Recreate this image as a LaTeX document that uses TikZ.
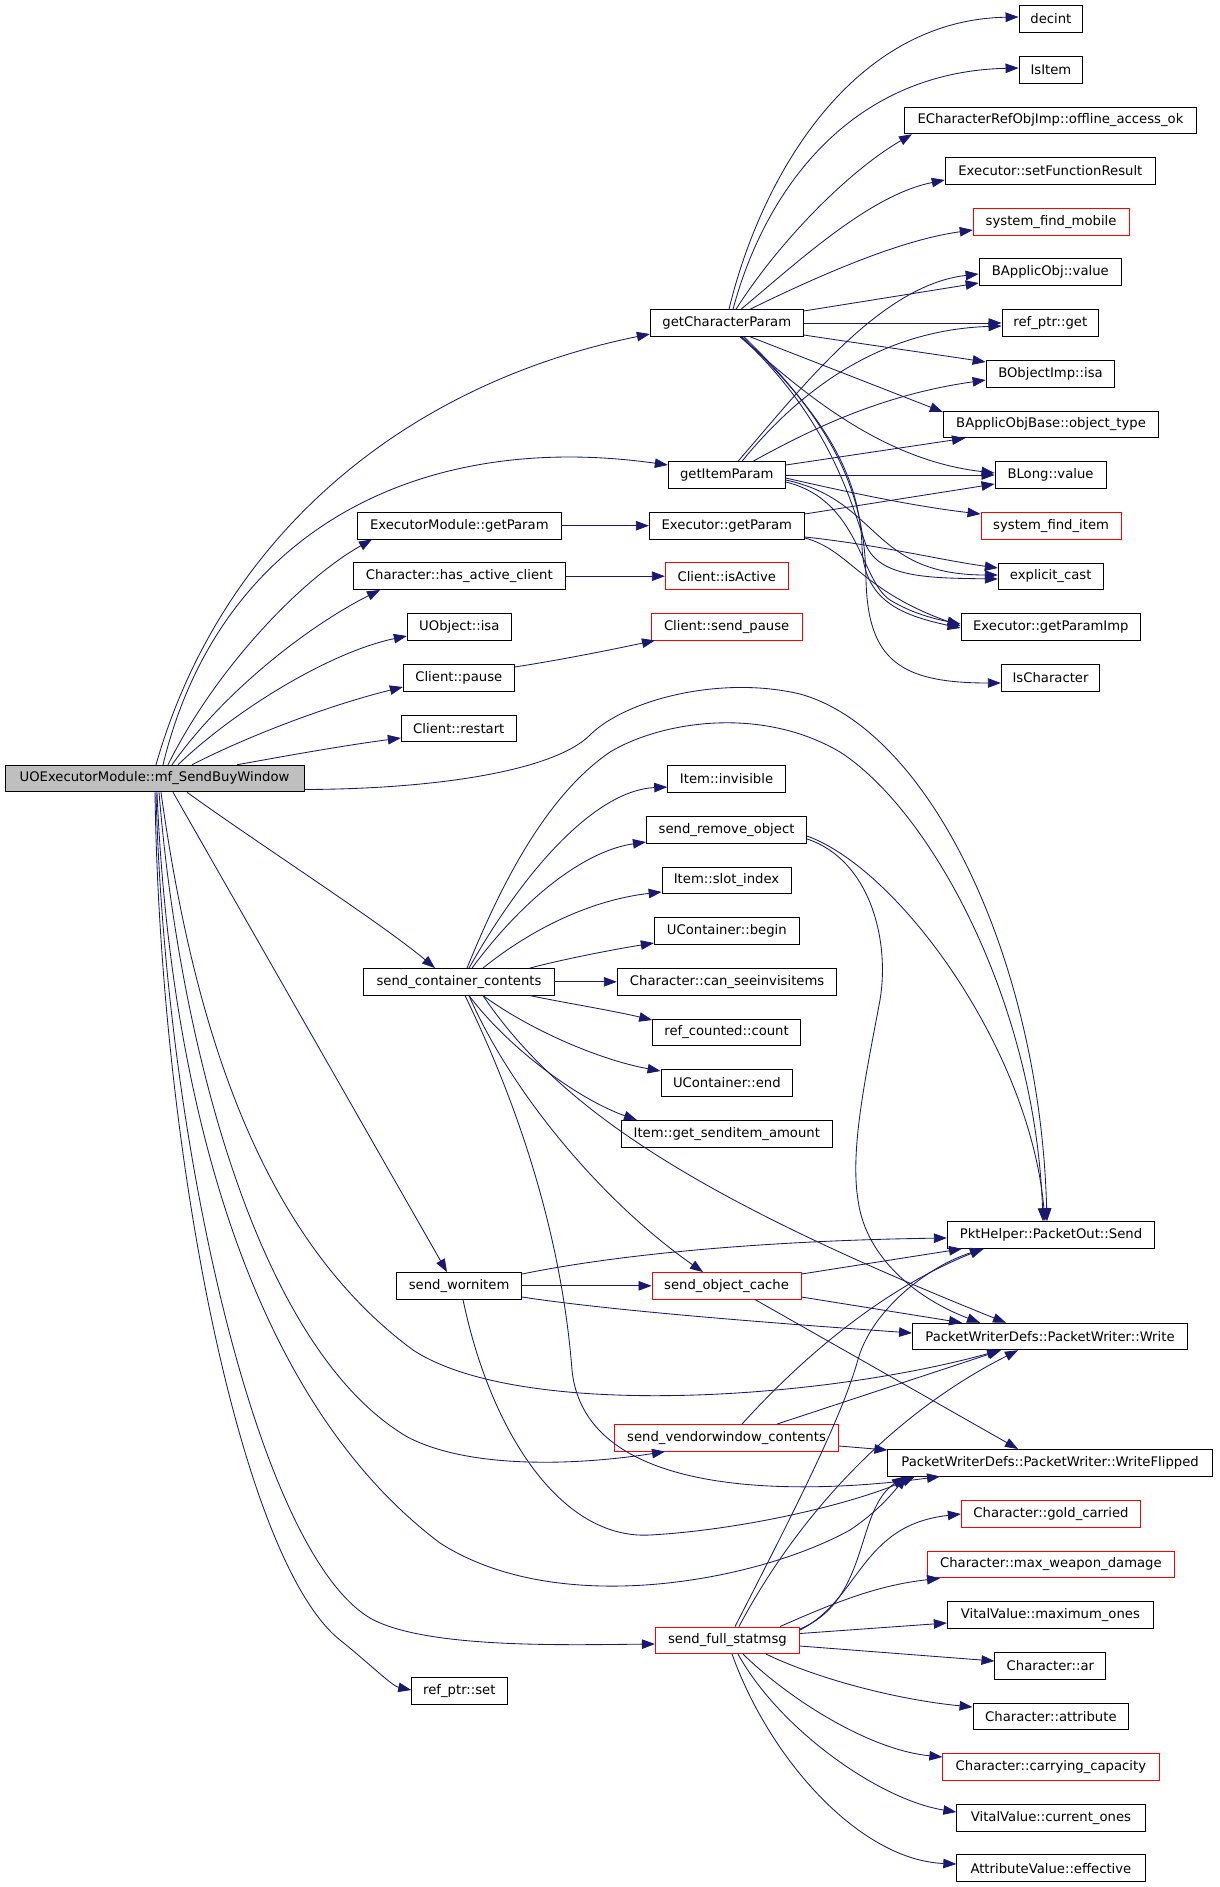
\documentclass[tikz,border=0pt]{standalone}
\usepackage{fontspec}
\setmainfont{DejaVu Sans}
\usetikzlibrary{arrows.meta}
\definecolor{edgec}{RGB}{25,25,112}
\definecolor{nodegray}{RGB}{191,191,191}
\newcommand\gnode[6]{\node[#1, minimum width={#4-#3}] (#2) at ({(#3+#4)/2},#5) {#6};}
\begin{document}
\begin{tikzpicture}[x=1pt,y=-1pt,
  box/.style={draw=black, fill=white, line width=0.9pt, minimum height=26.6pt, inner sep=0pt, font=\fontsize{13.2}{15}\selectfont},
  rbox/.style={box, draw=red},
  mbox/.style={box, fill=nodegray},
  edge/.style={draw=edgec, line width=0.85pt, -{Triangle[length=13pt,width=9.5pt]}}]
\fill[white] (0,0) rectangle (1219,1887);
\useasboundingbox (0,0) rectangle (1219,1887);
% nodes
\gnode{mbox}{main}{5}{304}{778.5}{UOExecutorModule::mf\_SendBuyWindow}
\gnode{box}{emgp}{357.3}{561.3}{525.7}{ExecutorModule::getParam}
\gnode{box}{hac}{353.3}{565.3}{576.2}{Character::has\_active\_client}
\gnode{box}{uoisa}{407.3}{511.3}{626.7}{UObject::isa}
\gnode{box}{cpause}{403.3}{514.3}{677.7}{Client::pause}
\gnode{box}{crestart}{401.3}{516.3}{728.3}{Client::restart}
\gnode{box}{scc}{363.5}{554.6}{981.8}{send\_container\_contents}
\gnode{box}{swi}{396.6}{521.5}{1285.8}{send\_wornitem}
\gnode{box}{rps}{411.7}{507}{1690.8}{ref\_ptr::set}
\gnode{box}{gcp}{650.3}{803.3}{323}{getCharacterParam}
\gnode{box}{gip}{668.3}{785.3}{475}{getItemParam}
\gnode{box}{egp}{649.3}{804.3}{525.7}{Executor::getParam}
\gnode{rbox}{cia}{665.3}{788.3}{576.2}{Client::isActive}
\gnode{rbox}{csp}{651}{802.3}{626.7}{Client::send\_pause}
\gnode{box}{iinv}{667.7}{785.4}{778.8}{Item::invisible}
\gnode{box}{sro}{646.4}{806.7}{829.8}{send\_remove\_object}
\gnode{box}{islot}{662.1}{791}{880.3}{Item::slot\_index}
\gnode{box}{ucb}{654.3}{799.4}{931}{UContainer::begin}
\gnode{box}{csee}{617.3}{836.9}{981.8}{Character::can\_seeinvisitems}
\gnode{box}{rcc}{652.6}{800.5}{1032.3}{ref\_counted::count}
\gnode{box}{uce}{661}{792.7}{1083}{UContainer::end}
\gnode{box}{igsa}{621.2}{832.4}{1133.8}{Item::get\_senditem\_amount}
\gnode{rbox}{soc}{652}{801.1}{1285.8}{send\_object\_cache}
\gnode{rbox}{svc}{614.5}{838.6}{1437.8}{send\_vendorwindow\_contents}
\gnode{rbox}{sfs}{655.4}{799.4}{1640.3}{send\_full\_statmsg}
\gnode{box}{decint}{1019}{1082.8}{19}{decint}
\gnode{box}{isitem}{1019}{1082.8}{69.8}{IsItem}
\gnode{box}{ecr}{904.2}{1196.8}{120.5}{ECharacterRefObjImp::offline\_access\_ok}
\gnode{box}{esfr}{945.2}{1155.5}{170.8}{Executor::setFunctionResult}
\gnode{rbox}{sfm}{973.2}{1129}{222}{system\_find\_mobile}
\gnode{box}{bav}{979.1}{1121.5}{272.2}{BApplicObj::value}
\gnode{box}{rpg}{1002}{1098.7}{323}{ref\_ptr::get}
\gnode{box}{boi}{986.1}{1114.9}{374}{BObjectImp::isa}
\gnode{box}{babot}{943.3}{1158.8}{424.5}{BApplicObjBase::object\_type}
\gnode{box}{blv}{995}{1106}{475}{BLong::value}
\gnode{rbox}{sfi}{981}{1121.2}{525.7}{system\_find\_item}
\gnode{box}{ecast}{998.3}{1103.1}{576.3}{explicit\_cast}
\gnode{box}{egpi}{961}{1140.7}{627}{Executor::getParamImp}
\gnode{box}{isch}{1001.3}{1099.8}{677.7}{IsCharacter}
\gnode{box}{send}{947.3}{1154.6}{1235}{PktHelper::PacketOut::Send}
\gnode{box}{write}{912.5}{1187.6}{1336.5}{PacketWriterDefs::PacketWriter::Write}
\gnode{box}{wflip}{887.9}{1212.3}{1462.7}{PacketWriterDefs::PacketWriter::WriteFlipped}
\gnode{rbox}{cgc}{961.3}{1140.6}{1514}{Character::gold\_carried}
\gnode{rbox}{cmwd}{927.1}{1174.7}{1564.5}{Character::max\_weapon\_damage}
\gnode{box}{vvmo}{947.3}{1153.4}{1615}{VitalValue::maximum\_ones}
\gnode{box}{car}{994.9}{1105.8}{1666}{Character::ar}
\gnode{box}{cattr}{973}{1128.8}{1716.3}{Character::attribute}
\gnode{rbox}{ccc}{942.8}{1159}{1766.7}{Character::carrying\_capacity}
\gnode{box}{vvco}{956.8}{1145}{1817.7}{VitalValue::current\_ones}
\gnode{box}{ave}{956.8}{1145}{1868.2}{AttributeValue::effective}
% edges from main (top)
\draw[edge] (156,0 |- main.north) .. controls (220,540) and (400,385) .. (gcp.west |- 0,334);
\draw[edge] (163,0 |- main.north) .. controls (220,530) and (420,430) .. (gip.west |- 0,465);
\draw[edge] (168,0 |- main.north) .. controls (215,670) and (300,580) .. (372,0 |- emgp.south);
\draw[edge] (172,0 |- main.north) .. controls (225,690) and (310,625) .. (380,0 |- hac.south);
\draw[edge] (178,0 |- main.north) .. controls (235,710) and (330,652) .. (uoisa.west |- 0,636);
\draw[edge] (192,0 |- main.north) .. controls (250,735) and (330,705) .. (cpause.west |- 0,687);
\draw[edge] (237,0 |- main.north) .. controls (280,757) and (340,746) .. (crestart.west |- 0,738);
\draw[edge] (main.east |- 0,789.5) .. controls (440,789) and (555,770) .. (590,735) .. controls (625,700) and (720,675) .. (800,694) .. controls (930,730) and (1040,960) .. (1047,0 |- send.north);
% edges from main (bottom)
\draw[edge] (187,0 |- main.south) .. controls (260,845) and (380,922) .. (435,0 |- scc.north);
\draw[edge] (173,0 |- main.south) -- (447,0 |- swi.north);
\draw[edge] (161,0 |- main.south) .. controls (190,1000) and (250,1230) .. (413,1350) .. controls (520,1420) and (820,1400) .. (1000,0 |- write.south);
\draw[edge] (159,0 |- main.south) .. controls (180,1050) and (260,1350) .. (407,1436.7) .. controls (470,1470) and (580,1465) .. (665,0 |- svc.south);
\draw[edge] (157,0 |- main.south) .. controls (170,1100) and (250,1400) .. (440,1543) .. controls (560,1620) and (760,1580) .. (850,1530) .. controls (880,1510) and (895,1490) .. (907,0 |- wflip.south);
\draw[edge] (156,0 |- main.south) .. controls (165,1150) and (260,1560) .. (373.6,1620) .. controls (430,1648) and (560,1645) .. (sfs.west |- 0,1644);
\draw[edge] (155,0 |- main.south) .. controls (160,1150) and (240,1560) .. (340,1640) .. controls (370,1664) and (392,1686) .. (rps.west |- 0,1690);
% column 1 edges
\draw[edge] (emgp.east) -- (egp.west);
\draw[edge] (hac.east) -- (cia.west);
\draw[edge] (cpause.east |- 0,667) .. controls (560,660) and (610,650) .. (655,0 |- csp.south);
% getCharacterParam
\draw[edge] (729,0 |- gcp.north) .. controls (760,180) and (850,20) .. (decint.west |- 0,17);
\draw[edge] (733,0 |- gcp.north) .. controls (765,190) and (850,72) .. (isitem.west |- 0,68);
\draw[edge] (736,0 |- gcp.north) .. controls (780,240) and (850,170) .. (912,0 |- ecr.south);
\draw[edge] (741,0 |- gcp.north) .. controls (800,260) and (870,195) .. (esfr.west |- 0,180);
\draw[edge] (750,0 |- gcp.north) .. controls (820,275) and (900,240) .. (sfm.west |- 0,230);
\draw[edge] (gcp.east |- 0,311) -- (bav.west |- 0,283);
\draw[edge] (gcp.east) -- (rpg.west);
\draw[edge] (gcp.east |- 0,335) .. controls (870,345) and (940,355) .. (boi.west |- 0,362);
\draw[edge] (750,0 |- gcp.south) -- (babot.west |- 0,412);
\draw[edge] (740,0 |- gcp.south) .. controls (800,390) and (880,460) .. (blv.west |- 0,473);
\draw[edge] (741,0 |- gcp.south) .. controls (830,420) and (850,500) .. (866,545) .. controls (880,578) and (930,578) .. (ecast.west |- 0,579);
\draw[edge] (742,0 |- gcp.south) .. controls (830,420) and (860,480) .. (862,547) .. controls (864,600) and (900,615) .. (egpi.west |- 0,628);
\draw[edge] (744,0 |- gcp.south) .. controls (840,430) and (865,500) .. (866,580) .. controls (868,660) and (900,683) .. (isch.west |- 0,683);
% getItemParam
\draw[edge] (738,0 |- gip.north) .. controls (800,390) and (880,285) .. (bav.west |- 0,274);
\draw[edge] (742,0 |- gip.north) .. controls (800,390) and (880,330) .. (rpg.west |- 0,326);
\draw[edge] (753,0 |- gip.north) .. controls (810,430) and (880,395) .. (boi.west |- 0,380);
\draw[edge] (gip.east |- 0,465) -- (965,0 |- babot.south);
\draw[edge] (gip.east) -- (blv.west);
\draw[edge] (gip.east |- 0,478) .. controls (860,495) and (920,507) .. (sfi.west |- 0,514);
\draw[edge] (gip.east |- 0,480) .. controls (880,500) and (870,575) .. (ecast.west |- 0,575);
\draw[edge] (gip.east |- 0,482) .. controls (860,500) and (860,580) .. (890,600) .. controls (910,612) and (930,618) .. (egpi.west |- 0,624);
% Executor::getParam
\draw[edge] (egp.east |- 0,514) -- (blv.west |- 0,484);
\draw[edge] (egp.east |- 0,537) .. controls (880,545) and (940,560) .. (ecast.west |- 0,568);
\draw[edge] (egp.east |- 0,538) .. controls (850,550) and (860,590) .. (egpi.west |- 0,626);
% send_container_contents
\draw[edge] (469,0 |- scc.north) .. controls (530,860) and (600,790) .. (iinv.west |- 0,787);
\draw[edge] (472,0 |- scc.north) .. controls (530,890) and (590,850) .. (sro.west |- 0,842);
\draw[edge] (483,0 |- scc.north) .. controls (530,930) and (590,900) .. (islot.west |- 0,892);
\draw[edge] (530,0 |- scc.north) .. controls (560,960) and (610,950) .. (ucb.west |- 0,943);
\draw[edge] (scc.east) -- (csee.west);
\draw[edge] (530,0 |- scc.south) .. controls (560,1002) and (610,1010) .. (rcc.west |- 0,1020);
\draw[edge] (483,0 |- scc.south) .. controls (530,1030) and (600,1060) .. (uce.west |- 0,1071);
\draw[edge] (469,0 |- scc.south) .. controls (510,1050) and (580,1100) .. (637,0 |- igsa.north);
\draw[edge] (467,0 |- scc.north) .. controls (495,900) and (540,800) .. (610,752) .. controls (660,722) and (760,705) .. (840,752) .. controls (930,810) and (1035,1000) .. (1043,0 |- send.north);
\draw[edge] (469,0 |- scc.south) .. controls (510,1090) and (600,1200) .. (703,0 |- soc.north);
\draw[edge] (483,0 |- scc.south) .. controls (560,1110) and (700,1200) .. (1006,0 |- write.north);
\draw[edge] (465,0 |- scc.south) .. controls (540,1150) and (565,1280) .. (572,1370) .. controls (585,1500) and (800,1495) .. (940,0 |- wflip.south);
% send_remove_object
\draw[edge] (sro.east |- 0,836) .. controls (900,870) and (1030,1050) .. (1045,0 |- send.north);
\draw[edge] (sro.east |- 0,839) .. controls (870,860) and (890,940) .. (880,1000) .. controls (865,1080) and (850,1150) .. (858,1200) .. controls (866,1260) and (920,1300) .. (980,0 |- write.north);
% send_wornitem
\draw[edge] (swi.east |- 0,1274) .. controls (640,1250) and (800,1240) .. (send.west |- 0,1238);
\draw[edge] (swi.east) -- (soc.west);
\draw[edge] (swi.east |- 0,1297) .. controls (620,1312) and (800,1325) .. (write.west |- 0,1333);
\draw[edge] (463,0 |- swi.south) .. controls (490,1430) and (560,1540) .. (650,1535) .. controls (740,1530) and (850,1505) .. (915,0 |- wflip.south);
% send_object_cache
\draw[edge] (soc.east |- 0,1274) -- (962,0 |- send.south);
\draw[edge] (soc.east |- 0,1297) -- (962,0 |- write.north);
\draw[edge] (755,0 |- soc.south) -- (1018,0 |- wflip.north);
% send_vendorwindow_contents
\draw[edge] (742,0 |- svc.north) .. controls (800,1360) and (880,1290) .. (983,0 |- send.south);
\draw[edge] (777,0 |- svc.north) -- (1001,0 |- write.south);
\draw[edge] (svc.east |- 0,1446) -- (wflip.west |- 0,1450);
% send_full_statmsg
\draw[edge] (735,0 |- sfs.north) .. controls (800,1500) and (840,1420) .. (857,1363) .. controls (870,1310) and (930,1265) .. (984,0 |- send.south);
\draw[edge] (739,0 |- sfs.north) .. controls (790,1530) and (880,1420) .. (1018,0 |- write.south);
\draw[edge] (sfs.east |- 0,1629) .. controls (870,1600) and (855,1510) .. (905,0 |- wflip.south);
\draw[edge] (sfs.east |- 0,1630) .. controls (860,1600) and (860,1525) .. (cgc.west |- 0,1514);
\draw[edge] (780,0 |- sfs.north) .. controls (840,1600) and (880,1585) .. (940,0 |- cmwd.south);
\draw[edge] (sfs.east |- 0,1633.5) -- (vvmo.west |- 0,1623);
\draw[edge] (sfs.east |- 0,1646) -- (car.west |- 0,1661);
\draw[edge] (766,0 |- sfs.south) .. controls (820,1680) and (900,1700) .. (cattr.west |- 0,1707);
\draw[edge] (743,0 |- sfs.south) .. controls (790,1700) and (870,1750) .. (ccc.west |- 0,1757);
\draw[edge] (738,0 |- sfs.south) .. controls (780,1730) and (880,1800) .. (vvco.west |- 0,1812);
\draw[edge] (732,0 |- sfs.south) .. controls (770,1760) and (860,1860) .. (ave.west |- 0,1864);
\end{tikzpicture}
\end{document}
